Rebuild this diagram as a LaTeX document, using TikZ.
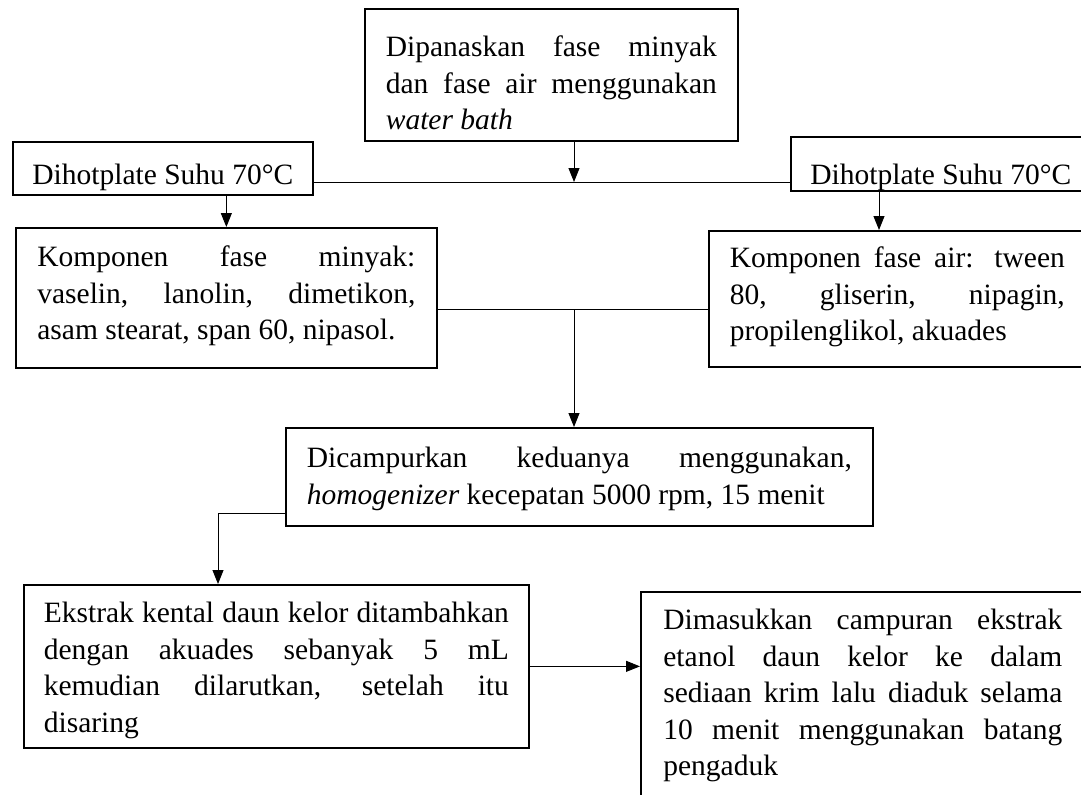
\documentclass[tikz,border=0pt]{standalone}
\usepackage{fontspec}
\setmainfont{Liberation Serif}
\usetikzlibrary{arrows.meta}
\hyphenpenalty=10000
\exhyphenpenalty=10000
\tolerance=10000

\begin{document}
\begin{tikzpicture}[x=0.5pt,y=-0.5pt,
  box/.style={draw,line width=0.85pt,anchor=north west,inner ysep=0pt,inner xsep=10.5pt,align=justify,
    font=\fontsize{14.75pt}{18.25pt}\selectfont},
  hotbox/.style={box,align=center,inner xsep=0pt,minimum width=150pt},
  line/.style={line width=0.5pt},
  arr/.style={line width=0.5pt,-{Triangle[length=7pt,width=5.5pt]}}]
\useasboundingbox (0,0) rectangle (1081,794);
\clip (0,0) rectangle (1081,794);
\node[box,text width=165.5pt,text height=24pt,text depth=42pt] (heat) at (364,8) {Dipanaskan fase minyak\linebreak dan fase air menggunakan\linebreak \textit{water bath}};
\node[hotbox,text height=21.5pt,text depth=5pt] (hotL) at (12,141) {Dihotplate Suhu 70°C};
\node[hotbox,text height=24pt,text depth=3pt] (hotR) at (790,136) {Dihotplate Suhu 70°C};
\node[box,text width=189pt,inner xsep=10.75pt,text height=19.5pt,text depth=50.5pt] (oilC) at (15,227) {Komponen fase minyak:\linebreak vaselin, lanolin, dimetikon,\linebreak asam stearat, span 60, nipasol.};
\node[box,text width=167.5pt,text height=18.5pt,text depth=49.5pt] (watC) at (708,230) {Komponen fase air: tween\linebreak 80, gliserin, nipagin,\linebreak propilenglikol, akuades};
\node[box,text width=272.5pt,text height=20pt,text depth=29pt] (mix) at (285,427) {Dicampurkan keduanya menggunakan,\linebreak \textit{homogenizer} kecepatan 5000 rpm, 15 menit};
\node[box,text width=232.5pt,inner xsep=10pt,text height=19pt,text depth=62.5pt] (ext) at (23,584) {Ekstrak kental daun kelor ditambahkan\linebreak dengan akuades sebanyak 5 mL\linebreak kemudian dilarutkan, setelah itu\linebreak disaring};
\node[box,text width=199.5pt,inner xsep=11.25pt,text height=19pt,text depth=100.5pt] (fin) at (640,591) {Dimasukkan campuran ekstrak\linebreak etanol daun kelor ke dalam\linebreak sediaan krim lalu diaduk selama\linebreak 10 menit menggunakan batang\linebreak pengaduk};
\coordinate (bus) at (574,182);
\coordinate (join) at (574,309);
\coordinate (elbow) at (218,513);
\coordinate (dropR) at (879,0);
\draw[arr] (bus |- heat.south) -- (bus);
\draw[line] (hotL.east |- bus) -- (hotR.west |- bus);
\draw[arr] (hotL.south -| oilC.north) -- (oilC.north);
\draw[arr] (hotR.south -| dropR) -- (watC.north -| dropR);
\draw[line] (oilC.east |- join) -- (watC.west |- join);
\draw[arr] (join) -- (join |- mix.north);
\draw[arr] (mix.west |- elbow) -- (elbow) -- (elbow |- ext.north);
\draw[arr] (ext.east) -- (fin.west |- ext.east);
\end{tikzpicture}
\end{document}
